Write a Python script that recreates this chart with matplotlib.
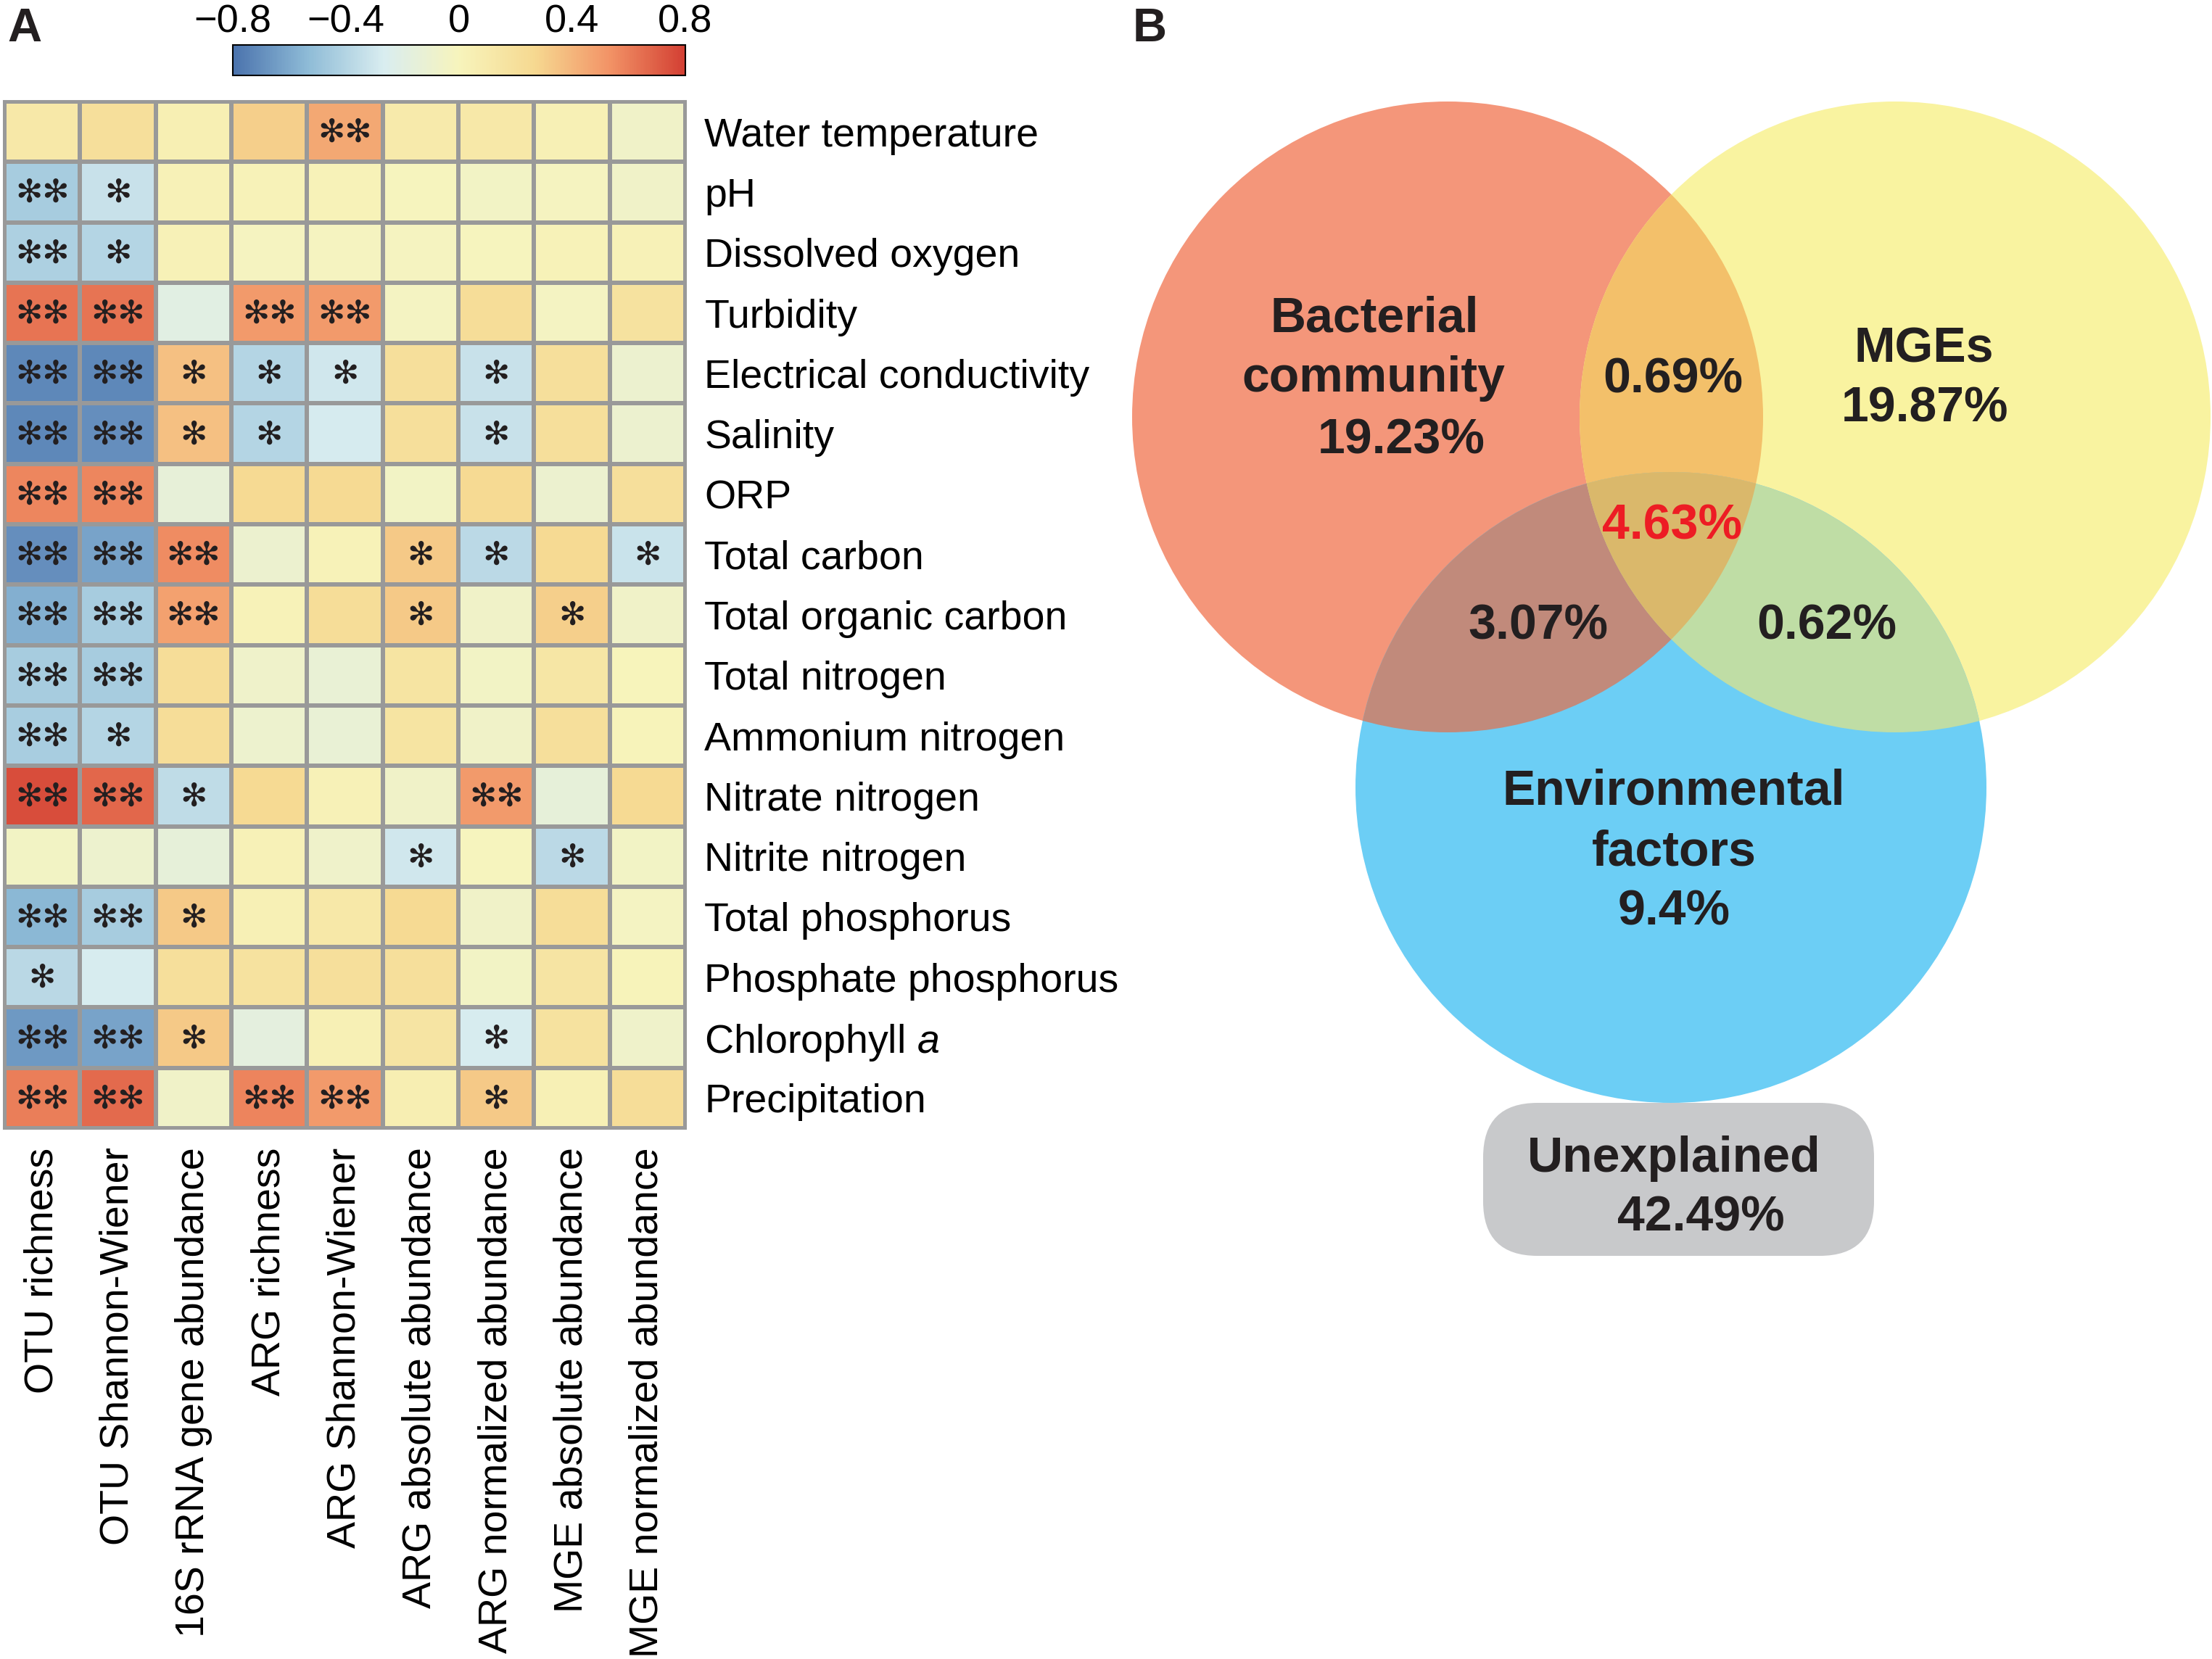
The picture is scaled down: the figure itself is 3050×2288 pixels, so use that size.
import numpy as np
import matplotlib
matplotlib.use("Agg")
import matplotlib.pyplot as plt
from matplotlib.colors import LinearSegmentedColormap, Normalize
from matplotlib.patches import Circle, FancyBboxPatch, Polygon
import matplotlib.cm as cm

plt.rcParams['font.family'] = ['Liberation Sans', 'DejaVu Sans']
plt.rcParams['mathtext.fontset'] = 'custom'
plt.rcParams['mathtext.rm'] = 'Liberation Sans'
plt.rcParams['mathtext.it'] = 'Liberation Sans:italic'

# ---------------- data ----------------
row_labels = ["Water temperature", "pH", "Dissolved oxygen", "Turbidity",
              "Electrical conductivity", "Salinity", "ORP", "Total carbon",
              "Total organic carbon", "Total nitrogen", "Ammonium nitrogen",
              "Nitrate nitrogen", "Nitrite nitrogen", "Total phosphorus",
              "Phosphate phosphorus", "Chlorophyll $\\it{a}$", "Precipitation"]
col_labels = ["OTU richness", "OTU Shannon-Wiener", "16S rRNA gene abundance",
              "ARG richness", "ARG Shannon-Wiener", "ARG absolute abundance",
              "ARG normalized abundance", "MGE absolute abundance",
              "MGE normalized abundance"]

corr_values = [
    [0.12, 0.20, 0.05, 0.30, 0.45, 0.10, 0.12, 0.04, -0.06],
    [-0.45, -0.33, 0.03, 0.02, 0.02, -0.01, -0.05, -0.02, -0.06],
    [-0.42, -0.40, 0.03, -0.02, -0.02, -0.02, -0.01, 0.02, 0.03],
    [0.63, 0.63, -0.20, 0.50, 0.50, -0.03, 0.22, -0.03, 0.18],
    [-0.72, -0.72, 0.36, -0.40, -0.30, 0.20, -0.33, 0.20, -0.10],
    [-0.72, -0.70, 0.36, -0.40, -0.28, 0.20, -0.33, 0.20, -0.10],
    [0.57, 0.57, -0.14, 0.25, 0.25, -0.05, 0.25, -0.10, 0.20],
    [-0.70, -0.62, 0.55, -0.10, 0.02, 0.33, -0.37, 0.25, -0.32],
    [-0.58, -0.45, 0.48, 0.02, 0.22, 0.33, -0.06, 0.30, -0.06],
    [-0.45, -0.45, 0.22, -0.07, -0.13, 0.16, -0.05, 0.14, 0.00],
    [-0.44, -0.40, 0.22, -0.09, -0.13, 0.16, -0.06, 0.20, 0.01],
    [0.75, 0.67, -0.36, 0.25, 0.03, -0.06, 0.50, -0.15, 0.25],
    [-0.04, -0.09, -0.15, 0.03, -0.07, -0.30, -0.01, -0.37, -0.05],
    [-0.55, -0.45, 0.33, 0.04, 0.12, 0.25, -0.06, 0.22, -0.03],
    [-0.38, -0.27, 0.20, 0.18, 0.20, 0.20, -0.05, 0.15, 0.01],
    [-0.66, -0.62, 0.33, -0.17, 0.04, 0.15, -0.27, 0.18, -0.07],
    [0.60, 0.66, -0.06, 0.58, 0.50, 0.06, 0.33, 0.04, 0.22],
]

significance = [
    ["", "", "", "", "**", "", "", "", ""],
    ["**", "*", "", "", "", "", "", "", ""],
    ["**", "*", "", "", "", "", "", "", ""],
    ["**", "**", "", "**", "**", "", "", "", ""],
    ["**", "**", "*", "*", "*", "", "*", "", ""],
    ["**", "**", "*", "*", "", "", "*", "", ""],
    ["**", "**", "", "", "", "", "", "", ""],
    ["**", "**", "**", "", "", "*", "*", "", "*"],
    ["**", "**", "**", "", "", "*", "", "*", ""],
    ["**", "**", "", "", "", "", "", "", ""],
    ["**", "*", "", "", "", "", "", "", ""],
    ["**", "**", "*", "", "", "", "**", "", ""],
    ["", "", "", "", "", "*", "", "*", ""],
    ["**", "**", "*", "", "", "", "", "", ""],
    ["*", "", "", "", "", "", "", "", ""],
    ["**", "**", "*", "", "", "", "*", "", ""],
    ["**", "**", "", "**", "**", "", "*", "", ""],
]

cbar_ticks = [-0.8, -0.4, 0, 0.4, 0.8]
cbar_ticklabels = ["\u22120.8", "\u22120.4", "0", "0.4", "0.8"]

venn_set_names = [["Bacterial", "community"], ["MGEs"], ["Environmental", "factors"]]
venn_unique = ["19.23%", "19.87%", "9.4%"]
venn_pairs = ["0.69%", "3.07%", "0.62%"]   # A&B, A&C, B&C
venn_triple = "4.63%"
venn_unexplained = ["Unexplained", "42.49%"]

# ---------------- style / layout ----------------
W, H = 3050, 2288
fig = plt.figure(figsize=(W / 100, H / 100), dpi=100)
fig.patch.set_facecolor('white')

cmap_colors = ['#4B73AD', '#8FBCD7', '#D9EDF0', '#F7F4BC', '#F6D991', '#F29366', '#D33F33']
cmap = LinearSegmentedColormap.from_list('phm', cmap_colors)
norm = Normalize(vmin=-0.8, vmax=0.8)
grid_col = '#999999'
txt_col = '#231F20'

# heatmap
hx0, hx1, hy0, hy1 = 6, 945, 140, 1556
ax = fig.add_axes([hx0 / W, 1 - hy1 / H, (hx1 - hx0) / W, (hy1 - hy0) / H])
vals = np.array(corr_values)
nr, nc = vals.shape
ax.pcolormesh(np.arange(nc + 1), np.arange(nr + 1), vals, cmap=cmap, norm=norm,
              edgecolors=grid_col, linewidth=2.9)
ax.set_xlim(0, nc)
ax.set_ylim(nr, 0)
for s in ax.spines.values():
    s.set_color(grid_col)
    s.set_linewidth(2.9)
ax.set_xticks(np.arange(nc) + 0.5)
ax.set_xticklabels(col_labels, rotation=90, fontsize=40, va='top', ha='center')
ax.tick_params(axis='x', length=0, pad=19)
ax.set_yticks(np.arange(nr) + 0.5)
ax.set_yticklabels(row_labels, fontsize=40)
ax.yaxis.tick_right()
ax.tick_params(axis='y', length=0, pad=19)
for i, row in enumerate(significance):
    for j, s in enumerate(row):
        if s:
            ax.text(j + 0.5, i + 0.52, s.replace('*', '\u273B'), ha='center', va='center',
                    fontsize=32, family='DejaVu Sans', color=txt_col)

# colorbar
cax = fig.add_axes([321 / W, 1 - 104 / H, 624 / W, 42 / H])
sm = cm.ScalarMappable(norm=norm, cmap=cmap)
cb = fig.colorbar(sm, cax=cax, orientation='horizontal', ticks=cbar_ticks)
cb.ax.xaxis.set_ticks_position('top')
cb.ax.set_xticklabels(cbar_ticklabels, fontsize=39)
cb.ax.tick_params(length=0, pad=5)
cb.outline.set_linewidth(1.5)

# panel labels
fig.text(10 / W, 1 - 10 / H, 'A', fontsize=47, fontweight='bold', va='top', ha='left', color=txt_col)
fig.text(1562 / W, 1 - 10 / H, 'B', fontsize=47, fontweight='bold', va='top', ha='left', color=txt_col)

# ---------------- Venn ----------------
vx0 = 1500
axv = fig.add_axes([vx0 / W, 0, (W - vx0) / W, 1])
axv.set_xlim(vx0, W)
axv.set_ylim(H, 0)
axv.axis('off')

R = 435
cA, cB, cC = (1996, 575), (2613, 575), (2304, 1086)
col_A, col_B, col_C = '#F4967A', '#F9F3A0', '#6CCEF5'
col_AB, col_AC, col_BC, col_ABC = '#F3C06A', '#C18A7B', '#BFDDA5', '#DAB86B'

for c, fc in [(cA, col_A), (cB, col_B), (cC, col_C)]:
    axv.add_patch(Circle(c, R, fc=fc, ec='none', zorder=1))


def clipped(center, color, clip_patch, z):
    p = Circle(center, R, fc=color, ec='none', zorder=z)
    axv.add_patch(p)
    p.set_clip_path(clip_patch)


clipped(cB, col_AB, Circle(cA, R, transform=axv.transData), 2)
clipped(cC, col_AC, Circle(cA, R, transform=axv.transData), 2)
clipped(cC, col_BC, Circle(cB, R, transform=axv.transData), 2)


def lens(c1, c2, r, n=3000):
    t = np.linspace(0, 2 * np.pi, n, endpoint=False)
    p1 = np.c_[c1[0] + r * np.cos(t), c1[1] + r * np.sin(t)]
    p2 = np.c_[c2[0] + r * np.cos(t), c2[1] + r * np.sin(t)]
    a = p1[np.hypot(p1[:, 0] - c2[0], p1[:, 1] - c2[1]) <= r]
    b = p2[np.hypot(p2[:, 0] - c1[0], p2[:, 1] - c1[1]) <= r]
    pts = np.vstack([a, b])
    cen = pts.mean(0)
    ang = np.arctan2(pts[:, 1] - cen[1], pts[:, 0] - cen[0])
    return pts[np.argsort(ang)]


clipped(cC, col_ABC, Polygon(lens(cA, cB, R), closed=True, transform=axv.transData), 3)

# unexplained box
bx0, by0, bx1, by1 = 2045, 1521, 2584, 1732
axv.add_patch(FancyBboxPatch((bx0, by0), bx1 - bx0, by1 - by0,
                             boxstyle="round,pad=0,rounding_size=75",
                             fc='#C8C9CB', ec='none', zorder=1))

vfs = 49
def vt(x, y, s, color=txt_col):
    axv.text(x, y, s, fontsize=vfs, fontweight='bold', ha='center', va='baseline',
             color=color, zorder=5)

vt(1895, 457, venn_set_names[0][0])
vt(1894, 540, venn_set_names[0][1])
vt(1932, 625, venn_unique[0])
vt(2653, 500, venn_set_names[1][0])
vt(2654, 582, venn_unique[1])
vt(2308, 1110, venn_set_names[2][0])
vt(2308, 1194, venn_set_names[2][1])
vt(2308, 1276, venn_unique[2])
vt(2307, 542, venn_pairs[0])
vt(2121, 881, venn_pairs[1])
vt(2519, 881, venn_pairs[2])
vt(2306, 744, venn_triple, color='#ED1C24')
vt(2308, 1616, venn_unexplained[0])
vt(2345, 1698, venn_unexplained[1])

fig.savefig('out.png', dpi=100, facecolor='white')
